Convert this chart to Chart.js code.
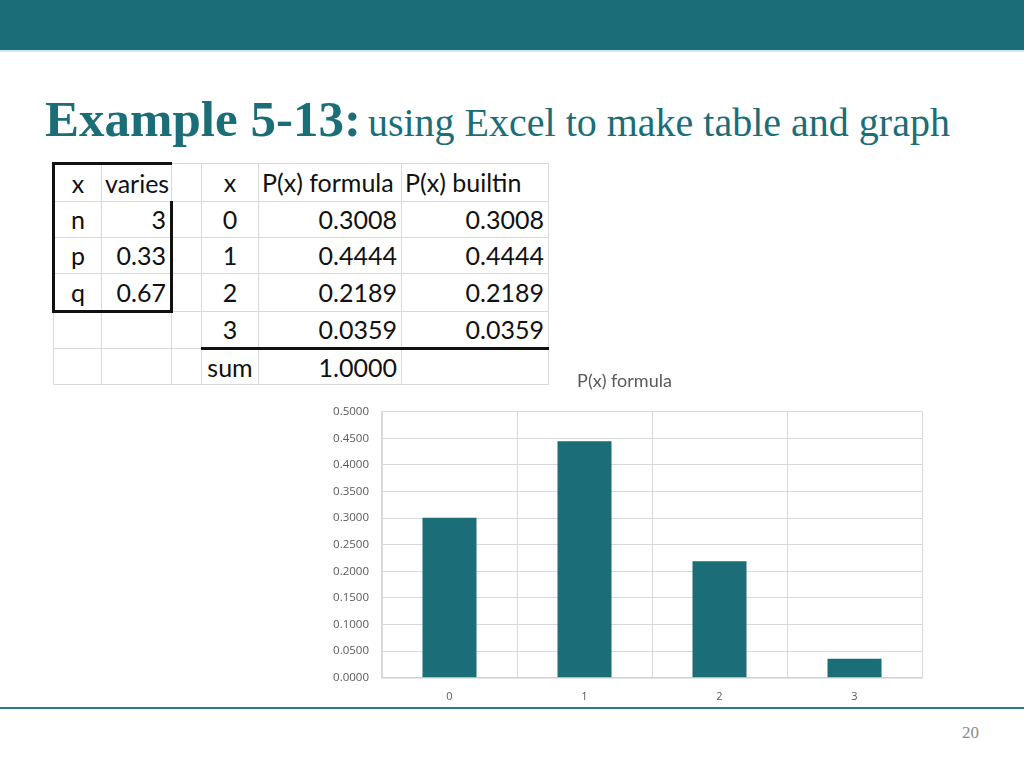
<!DOCTYPE html>
<html>
<head>
<meta charset="utf-8">
<script src="https://cdn.jsdelivr.net/npm/chart.js@4"></script>
<style>
  html, body { margin:0; padding:0; width:1024px; height:768px; background:#fff; overflow:hidden; }
  #banner { position:absolute; left:0; top:0; width:1024px; height:50px; background:#1b6d77; border-bottom:2px solid #cfe9ec; }
  #title { position:absolute; left:45px; top:90px; white-space:nowrap; color:#1b6d77; font-family:"Liberation Serif","DejaVu Serif",serif; }
  #title b { font-size:51px; font-weight:bold; }
  #title span { font-size:40px; margin-left:7px; }
  #tbl { position:absolute; left:52px; top:162px; border-collapse:collapse; font-family:Lato,"Open Sans",sans-serif; font-size:25px; color:#111; }
  #tbl td { border:1px solid #d9d9d9; padding:0 4px; height:34px; line-height:25px; white-space:nowrap; overflow:visible; }
  #tbl td.c { text-align:center; }
  #tbl td.r { text-align:right; }
  #tbl td.l { text-align:left; padding-left:3px; }
  #tbl .tt { border-top:3px solid #111; }
  #tbl .tb { border-bottom:3px solid #111; }
  #tbl .tl { border-left:3px solid #111; }
  #tbl .tr { border-right:3px solid #111; }
  #chartbox { position:absolute; left:327px; top:368px; width:608px; height:347px; }
  #footer { position:absolute; left:0; top:707px; width:1024px; height:2px; background:#2e7a84; }
  #pnum { position:absolute; left:962px; top:723px; font-family:"Liberation Serif",serif; font-size:17px; color:#8a8a8a; }
</style>
</head>
<body>
<div id="banner"></div>
<div id="title"><b>Example 5-13:</b><span>using Excel to make table and graph</span></div>
<table id="tbl"></table>
<div id="chartbox"><canvas id="c"></canvas></div>
<div id="footer"></div>
<div id="pnum">20</div>
<script>
// ---- data ----
const xValues = [0, 1, 2, 3];
const pFormula = [0.3008, 0.4444, 0.2189, 0.0359];
const pBuiltin = [0.3008, 0.4444, 0.2189, 0.0359];
const paramNames = ["n", "p", "q"];
const paramValues = ["3", "0.33", "0.67"];
const chartTitle = "P(x) formula";
const yTickMin = 0, yTickMax = 0.5, yTickStep = 0.05;

// ---- table ----
const colW = [48, 70, 30, 57, 143, 147];
const rowH = [38, 36, 36, 38, 37, 36];
const tbl = document.getElementById('tbl');
const cg = document.createElement('colgroup');
colW.forEach(w => { const c = document.createElement('col'); c.style.width = w + 'px'; cg.appendChild(c); });
tbl.appendChild(cg);
tbl.style.tableLayout = 'fixed';
tbl.style.width = colW.reduce((a,b)=>a+b,0) + 'px';

function cell(tr, text, cls) {
  const td = document.createElement('td');
  td.textContent = text;
  td.className = cls || '';
  tr.appendChild(td);
  return td;
}
const sum = pFormula.reduce((a,b)=>a+b,0);
for (let r = 0; r < 6; r++) {
  const tr = document.createElement('tr');
  tr.style.height = rowH[r] + 'px';
  if (r === 0) { cell(tr, 'x', 'c tl tt'); cell(tr, 'varies', 'l tt'); }
  else if (r <= 3) {
    cell(tr, paramNames[r-1], 'c tl' + (r === 3 ? ' tb' : ''));
    cell(tr, paramValues[r-1], 'r tr' + (r === 3 ? ' tb' : ''));
  } else { cell(tr, '', ''); cell(tr, '', ''); }
  cell(tr, '', '');
  if (r === 0) { cell(tr, 'x', 'c'); cell(tr, 'P(x) formula', 'l'); cell(tr, 'P(x) builtin', 'l'); }
  else if (r <= 4) {
    const i = r - 1;
    const b = (r === 4) ? ' tb' : '';
    cell(tr, String(xValues[i]), 'c' + b);
    cell(tr, pFormula[i].toFixed(4), 'r' + b);
    cell(tr, pBuiltin[i].toFixed(4), 'r' + b);
  } else { cell(tr, 'sum', 'c'); cell(tr, sum.toFixed(4), 'r'); cell(tr, '', ''); }
  tbl.appendChild(tr);
}

// ---- chart ----
const teal = '#1b6d77';
new Chart(document.getElementById('c'), {
  type: 'bar',
  data: {
    labels: xValues.map(String),
    datasets: [{ label: chartTitle, data: pFormula, backgroundColor: teal, borderWidth: 0,
                 barPercentage: 0.5, categoryPercentage: 0.8 }]
  },
  options: {
    responsive: true, maintainAspectRatio: false, animation: false,
    layout: { padding: { left: 0, right: 13, top: 0, bottom: 0 } },
    plugins: {
      legend: { display: false },
      tooltip: { enabled: false },
      title: { display: true, text: chartTitle, color: '#595959',
               font: { family: 'Lato, "Open Sans", sans-serif', size: 18, weight: 'normal' },
               padding: { top: 2, bottom: 20 } }
    },
    scales: {
      x: {
        grid: { display: true, color: '#d9d9d9', lineWidth: 1, drawTicks: false, offset: true },
        border: { display: true, color: '#cfcfcf', width: 1.5 },
        ticks: { color: '#595959', font: { family: '"Open Sans", sans-serif', size: 11 }, padding: 12 }
      },
      y: {
        min: yTickMin, max: yTickMax,
        afterFit: s => { s.width = 55; },
        grid: { color: '#d9d9d9', lineWidth: 1, drawTicks: false },
        border: { display: true, color: '#d9d9d9', width: 1.5 },
        ticks: { stepSize: yTickStep, color: '#595959', padding: 13,
                 font: { family: '"Open Sans", sans-serif', size: 11.5 },
                 callback: v => Number(v).toFixed(4) }
      }
    }
  }
});
</script>
</body>
</html>
